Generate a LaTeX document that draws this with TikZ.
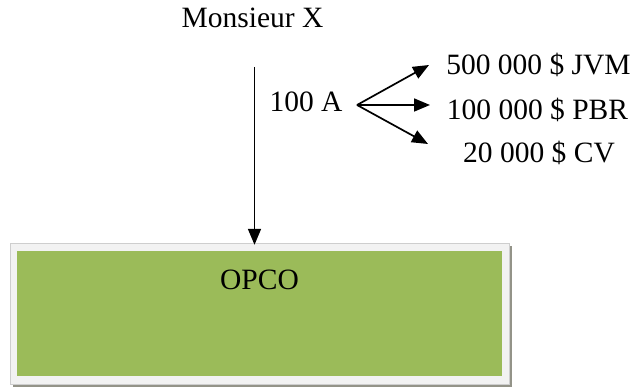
\documentclass[tikz,border=0pt]{standalone}
\usepackage{fontspec}
\setmainfont{Liberation Serif}
\usetikzlibrary{arrows.meta}
\definecolor{opcogreen}{HTML}{9BBB59}
\definecolor{opcoframe}{HTML}{F2F2F2}
\definecolor{opcoshadow}{HTML}{939388}
\begin{document}
\begin{tikzpicture}[x=1pt,y=-1pt,
  lbl/.style={inner sep=0pt,anchor=base,font=\fontsize{29.5}{34}\selectfont},
  arr/.style={line width=1.7pt,-{Triangle[length=16pt,width=13pt]}}]
\useasboundingbox (0,0) rectangle (644,387);
% box with shadow
\fill[opcoshadow] (13,246) rectangle (512,387);
\node[fill=opcoframe,draw=opcoframe!85!black,line width=0.4pt,inner sep=0pt,minimum width=499pt,minimum height=141pt] (opco) at (259.5,313.5) {};
\node[fill=opcogreen,inner sep=0pt,minimum width=485pt,minimum height=125pt] (opcoin) at (259.5,313.5) {};
\node[lbl] (opcotxt) at (259.5,289) {OPCO};
% labels
\node[lbl] (mx) at (252.5,28) {Monsieur X};
\node[lbl] (a100) at (306,112) {100 A};
\node[lbl] (jvm) at (538.5,75) {500 000 \$ JVM};
\node[lbl] (pbr) at (537.5,120) {100 000 \$ PBR};
\node[lbl] (cv) at (539,163) {20 000 \$ CV};
% vertical arrow
\coordinate (vtop) at (254.5,67);
\draw[arr] (vtop) -- ([yshift=-2pt]vtop |- opco.north);
% fan
\coordinate (fo) at (357,105);
\coordinate (t1) at (429,65);
\coordinate (t2) at (430,105);
\coordinate (t3) at (428,144);
\draw[arr] (fo) -- (t1);
\draw[arr] (fo) -- (t2);
\draw[arr] (fo) -- (t3);
\end{tikzpicture}
\end{document}
